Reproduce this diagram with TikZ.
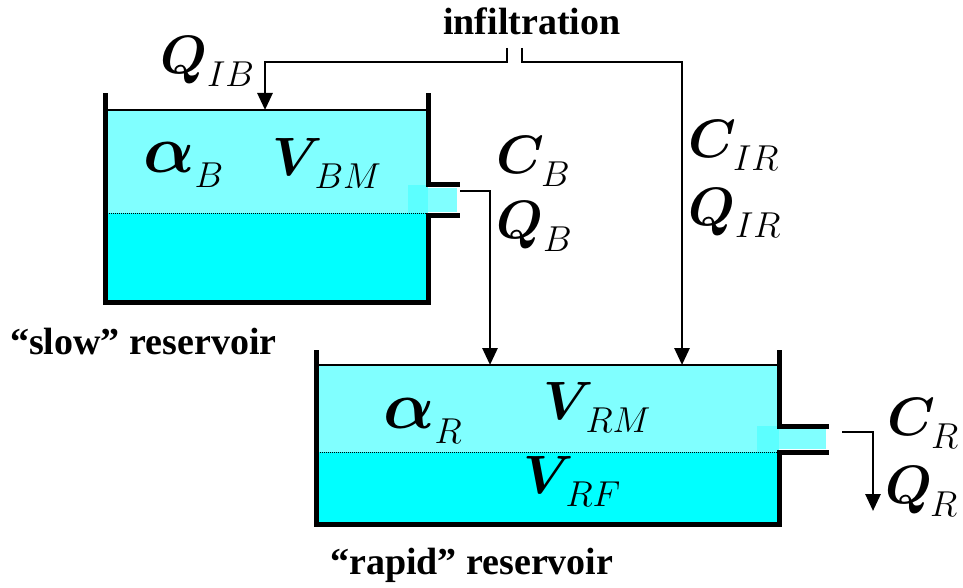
\RequirePackage{fix-cm}
\documentclass[tikz,border=0pt]{standalone}
\usepackage{fontspec}
\setmainfont{Liberation Serif}
\usepackage{amsmath}
\usetikzlibrary{arrows.meta}
\definecolor{waterlight}{HTML}{80FFFF}
\definecolor{waterdeep}{HTML}{00FFFF}
\definecolor{watermix}{HTML}{5CFFFF}

% big bold symbol with a lowered subscript
\newcommand{\varlab}[3][0pt]{%
  $\boldsymbol{#2}$\kern#1\raisebox{-13pt}{\fontsize{36}{40}\selectfont$#3$}}

\tikzset{
  wall/.style={line width=5pt, line cap=rect},
  flow/.style={line width=2.8pt, -{Triangle[length=17pt,width=15pt]}},
  sym/.style={anchor=base west, inner sep=0pt, font=\fontsize{54}{60}\selectfont},
  caption/.style={anchor=base west, inner sep=0pt, font=\fontsize{38}{42}\selectfont\bfseries}
}

\begin{document}
\begin{tikzpicture}[x=1pt, y=-1pt]
  \useasboundingbox (0,0) rectangle (963,588);

  % slow reservoir
  \fill[waterlight] (105,110) rectangle (428,213);
  \fill[waterdeep] (105,213) rectangle (428,302);
  \fill[waterlight] (428,188) rectangle (457,212);
  \fill[watermix] (408,185) rectangle (428,213);
  \draw[line width=1.2pt] (105,110) -- (428,110);
  \draw[densely dotted, line width=1pt] (105,213) -- (426,213);
  \draw[wall] (105,96) -- (105,302) -- (428,302) -- (428,215) -- (457,215);
  \draw[wall] (428,96) -- (428,185) -- (457,185);
  \coordinate (outB) at (460,191);

  % rapid reservoir
  \fill[waterlight] (316,365) rectangle (779,452);
  \fill[waterdeep] (316,452) rectangle (779,524);
  \fill[waterlight] (779,429) rectangle (826,449);
  \fill[watermix] (757,426) rectangle (779,452);
  \draw[line width=1.2pt] (316,365) -- (779,365);
  \draw[densely dotted, line width=1pt] (316,452) -- (777,452);
  \draw[wall] (316,352) -- (316,524) -- (779,524) -- (779,452) -- (826,452);
  \draw[wall] (779,352) -- (779,426) -- (826,426);
  \coordinate (outR) at (842,432);

  % labels
  \node[caption] (infil) at (443,35) {infiltration};
  \node[caption] (slow) at (10,354) {“slow” reservoir};
  \node[caption] (rapid) at (330,574) {“rapid” reservoir};
  \node[sym] (QIB) at (160,74) {\varlab{Q}{IB}};
  \node[sym] (aB) at (143,173) {\scalebox{1.25}{$\boldsymbol{\alpha}$}\raisebox{-15pt}{\fontsize{36}{40}\selectfont$B$}};
  \node[sym] (VBM) at (272,176) {\varlab[-8pt]{V}{BM}};
  \node[sym] (CB) at (496,174) {\varlab[-3pt]{C}{B}};
  \node[sym] (QB) at (496,238) {\varlab{Q}{B}};
  \node[sym] (CIR) at (688,158) {\varlab[-3pt]{C}{IR}};
  \node[sym] (QIR) at (688,225) {\varlab{Q}{IR}};
  \node[sym] (aR) at (383,428) {\scalebox{1.25}{$\boldsymbol{\alpha}$}\raisebox{-15pt}{\fontsize{36}{40}\selectfont$R$}};
  \node[sym] (VRM) at (543,419) {\varlab[-8pt]{V}{RM}};
  \node[sym] (VRF) at (523,493) {\varlab[-8pt]{V}{RF}};
  \node[sym] (CR) at (887,435) {\varlab[-4pt]{C}{R}};
  \node[sym] (QR) at (885,503) {\varlab[-2pt]{Q}{R}};

  % flows
  \coordinate (inL) at (507,48);
  \coordinate (inR) at (522,48);
  \coordinate (topB) at (265,110);
  \coordinate (topR1) at (490,365);
  \coordinate (topR2) at (682,365);
  \coordinate (outRend) at (873,511);
  \draw[flow] (inL) |- (topB |- 0,62) -- (topB);
  \draw[flow] (inR) |- (topR2 |- 0,62) -- (topR2);
  \draw[flow] (outB) -| (topR1);
  \draw[flow] (outR) -| (outRend);
\end{tikzpicture}
\end{document}
